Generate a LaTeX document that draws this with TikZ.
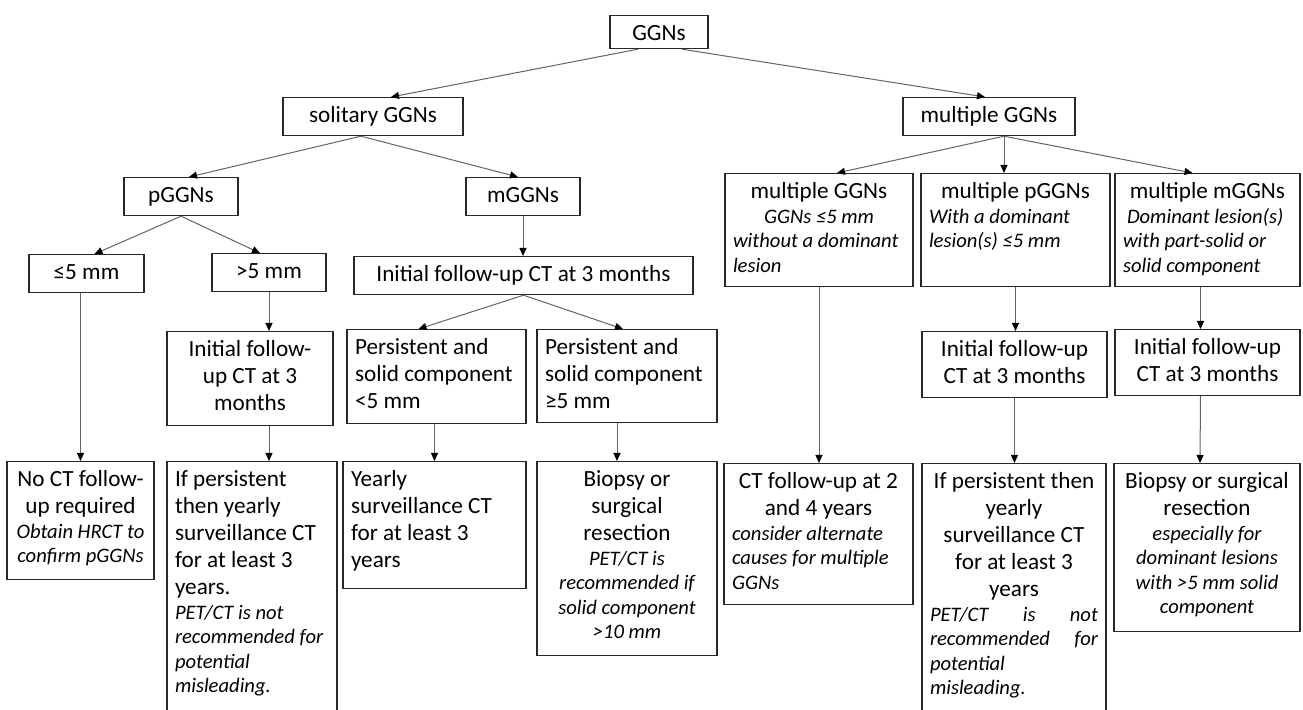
\documentclass[tikz,border=0pt]{standalone}
\usepackage{fontspec}
\setmainfont{Carlito}
\usetikzlibrary{arrows.meta}
\definecolor{ggnEdge}{RGB}{40,40,40}
\definecolor{ggnArrow}{RGB}{100,100,100}
\newcommand{\note}[1]{\par{\fontsize{10.3}{12.25}\selectfont\itshape #1\par}}
\newcommand{\lftln}[1]{#1\hfill\mbox{}}

\begin{document}
\begin{tikzpicture}[
    x=0.5pt, y=-0.5pt,
    box/.style={rectangle, draw=ggnEdge, line width=0.6pt, anchor=north,
                align=flush center, inner xsep=4pt, inner ysep=3.5pt,
                text height=9pt, font=\fontsize{11.6}{13.5}\selectfont},
    arr/.style={-{Triangle[length=4pt,width=3.5pt,color=black]}, draw=ggnArrow, line width=0.5pt}
  ]
  \useasboundingbox (0,0) rectangle (1303,710);

  \node[box, text width=41pt, text depth=0.5pt] (ggn) at (659,15) {GGNs};
  \node[box, text width=82pt, text depth=3pt] (sol) at (373,97) {solitary GGNs};
  \node[box, text width=78pt, text depth=3pt] (mul) at (989,97) {multiple GGNs};

  \node[box, text width=49pt, text depth=3pt] (pggn) at (181,177) {pGGNs};
  \node[box, text width=49pt, text depth=3pt] (mggn) at (523,177) {mGGNs};
  \node[box, text width=86pt, text depth=40.5pt] (mulA) at (819,173)
    {multiple GGNs\note{GGNs ≤5 mm\\\lftln{without a dominant}\\\lftln{lesion}}};
  \node[box, text width=86.5pt, text depth=40.5pt] (mulB) at (1015.5,173)
    {multiple pGGNs\note{\lftln{With a dominant}\\\lftln{lesion(s) ≤5 mm}}};
  \node[box, text width=84.5pt, text depth=40.5pt] (mulC) at (1207.5,173)
    {multiple mGGNs\note{\lftln{\hspace{2pt}Dominant lesion(s)}\\\lftln{with part-solid or}\\\lftln{solid component}}};

  \node[box, text width=49.5pt, text depth=3pt] (le5) at (86.5,254) {≤5 mm};
  \node[box, text width=49pt, text depth=3pt] (gt5) at (269,253) {>5 mm};
  \node[box, text width=161.5pt, text depth=3pt] (mfu) at (523.5,256) {Initial follow-up CT at 3 months};

  \node[box, text width=75pt, text depth=31pt] (pfu) at (250,331) {Initial follow-\\up CT at 3\\months};
  \node[box, text width=81.5pt, text depth=31pt, align=flush left] (pl5) at (436.5,329)
    {Persistent and\\solid component\\<5 mm};
  \node[box, text width=82pt, text depth=30.5pt, align=flush left] (pg5) at (627,329)
    {Persistent and\\solid component\\≥5 mm};
  \node[box, text width=84.5pt, text depth=17pt] (bfu) at (1014.5,331) {Initial follow-up\\CT at 3 months};
  \node[box, text width=84.5pt, text depth=17pt] (cfu) at (1207.5,329) {Initial follow-up\\CT at 3 months};

  \node[box, text width=65.5pt, text depth=43pt] (noct) at (80.5,461)
    {No CT follow-\\up required\note{Obtain HRCT to\\confirm pGGNs}};
  \node[box, text width=77pt, text depth=114pt, align=flush left] (pyear) at (252,461)
    {If persistent\\then yearly\\surveillance CT\\for at least 3\\years.\note{PET/CT is not\\recommended for\\potential\\misleading.}};
  \node[box, text width=83.5pt, text depth=47.5pt, align=flush left] (year) at (434.5,461)
    {Yearly\\surveillance CT\\for at least 3\\years};
  \node[box, text width=82pt, text depth=81pt] (biop) at (627,461)
    {Biopsy or\\surgical\\resection\note{PET/CT is\\recommended if\\solid component\\>10 mm}};
  \node[box, text width=86.5pt, text depth=54.5pt] (ct24) at (818.5,463)
    {CT follow-up at 2\\and 4 years\note{\lftln{consider alternate}\\\lftln{causes for multiple}\\\lftln{GGNs}}};
  \node[box, text width=84pt, text depth=114pt] (myear) at (1014,463)
    {If persistent then\\yearly\\surveillance CT\\for at least 3\\years\note{PET/CT\hfill is\hfill not\\recommended\hfill for\\\lftln{potential}\\\lftln{misleading.}}};
  \node[box, text width=85pt, text depth=68pt] (mbiop) at (1207,463)
    {Biopsy or surgical\\resection\note{especially for\\dominant lesions\\with >5 mm solid\\component}};

  \coordinate (mfork) at ([xshift=7.5pt]mul.south);

  \draw[arr] ([xshift=-10.5pt]ggn.south) -- ([xshift=9pt]sol.north);
  \draw[arr] ([xshift=11.5pt]ggn.south) -- ([xshift=-2pt]mul.north);
  \draw[arr] ([xshift=-6pt]sol.south) -- ([xshift=4pt]pggn.north);
  \draw[arr] ([xshift=-6pt]sol.south) -- ([xshift=-2.5pt]mggn.north);
  \draw[arr] (mfork) -- ([xshift=9pt]mulA.north);
  \draw[arr] (mfork) -- (mfork |- mulB.north);
  \draw[arr] (mfork) -- ([xshift=-7.5pt]mulC.north);
  \draw[arr] (pggn.south) -- ([xshift=4pt]le5.north);
  \draw[arr] (pggn.south) -- ([xshift=-4.5pt]gt5.north);
  \draw[arr] (mggn.south) -- (mggn.south |- mfu.north);
  \draw[arr] (noct.north |- le5.south) -- (noct.north);
  \draw[arr] (gt5.south) -- (gt5.south |- pfu.north);
  \draw[arr] (pfu.south -| gt5.south) -- (pyear.north -| gt5.south);
  \draw[arr] (mfu.south) -- ([xshift=-9pt]pl5.north);
  \draw[arr] (mfu.south) -- ([xshift=-2pt]pg5.north);
  \draw[arr] (year.north |- pl5.south) -- (year.north);
  \draw[arr] ([xshift=-5pt]pg5.south) -- ([xshift=-5pt]biop.north);
  \draw[arr] (mulA.south) -- (mulA.south |- ct24.north);
  \draw[arr] (mulB.south) -- (mulB.south |- bfu.north);
  \draw[arr] ([xshift=-3.5pt]mulC.south) -- ([xshift=-3.5pt]cfu.north);
  \draw[arr] (bfu.south) -- (bfu.south |- myear.north);
  \draw[arr] ([xshift=-3.5pt]cfu.south) -- ([xshift=-3.5pt]mbiop.north);
\end{tikzpicture}
\end{document}
